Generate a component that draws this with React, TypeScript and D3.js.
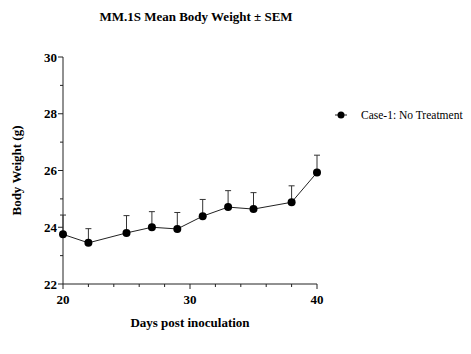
import React from 'react';
import * as d3 from 'd3';

const days = [20, 22, 25, 27, 29, 31, 33, 35, 38, 40];
const meanWeight = [23.75, 23.45, 23.8, 24.0, 23.94, 24.39, 24.71, 24.64, 24.88, 25.93];
const semWeight = [0.68, 0.5, 0.61, 0.55, 0.58, 0.59, 0.58, 0.58, 0.58, 0.61];
const xMajorTicks = [20, 30, 40];
const xMinorTicks = [22, 24, 26, 28, 32, 34, 36, 38];
const yMajorTicks = [22, 24, 26, 28, 30];
const yMinorTicks = [23, 25, 27, 29];
const seriesName = 'Case-1: No Treatment';

const W = 471;
const H = 354;
const font = "'Liberation Serif', 'Times New Roman', serif";

export default function App() {
  const x = d3.scaleLinear().domain([20, 40]).range([63, 317]);
  const y = d3.scaleLinear().domain([22, 30]).range([284, 57]);

  const pts = days.map((d, i) => ({ d, m: meanWeight[i], s: semWeight[i] }));
  const line = d3
    .line<{ d: number; m: number }>()
    .x((p) => x(p.d))
    .y((p) => y(p.m));

  const ink = '#222';

  return (
    <svg
      width={W}
      height={H}
      style={{ position: 'absolute', left: 0, top: 0, background: '#fff', fontFamily: font }}
    >
      <text x={196} y={21} textAnchor="middle" fontSize={13} fontWeight="bold" fill="#000">
        MM.1S Mean Body Weight ± SEM
      </text>

      {/* y axis */}
      <line x1={x(20)} x2={x(20)} y1={y(30)} y2={y(22)} stroke={ink} strokeWidth={1} />
      {yMajorTicks.map((t) => (
        <g key={'ym' + t}>
          <line x1={x(20) - 5} x2={x(20)} y1={y(t)} y2={y(t)} stroke={ink} />
          <text x={x(20) - 6} y={y(t)} dy="0.35em" textAnchor="end" fontSize={13} fontWeight="bold">
            {t}
          </text>
        </g>
      ))}
      {yMinorTicks.map((t) => (
        <line key={'yn' + t} x1={x(20) - 3} x2={x(20)} y1={y(t)} y2={y(t)} stroke={ink} />
      ))}

      {/* x axis */}
      <line x1={x(20)} x2={x(40)} y1={y(22)} y2={y(22)} stroke={ink} strokeWidth={1} />
      {xMajorTicks.map((t) => (
        <g key={'xm' + t}>
          <line x1={x(t)} x2={x(t)} y1={y(22)} y2={y(22) + 5} stroke={ink} />
          <text x={x(t)} y={y(22) + 20} textAnchor="middle" fontSize={13} fontWeight="bold">
            {t}
          </text>
        </g>
      ))}
      {xMinorTicks.map((t) => (
        <line key={'xn' + t} x1={x(t)} x2={x(t)} y1={y(22)} y2={y(22) + 3} stroke={ink} />
      ))}

      <text
        transform={`translate(21,${y(26)}) rotate(-90)`}
        textAnchor="middle"
        fontSize={13}
        fontWeight="bold"
      >
        Body Weight (g)
      </text>
      <text x={190} y={327} textAnchor="middle" fontSize={13} fontWeight="bold">
        Days post inoculation
      </text>

      {/* error bars */}
      {pts.map((p) => (
        <g key={'e' + p.d} stroke="#333" strokeWidth={1}>
          <line x1={x(p.d)} x2={x(p.d)} y1={y(p.m)} y2={y(p.m + p.s)} />
          <line x1={x(p.d) - 3} x2={x(p.d) + 3} y1={y(p.m + p.s)} y2={y(p.m + p.s)} />
        </g>
      ))}

      <path d={line(pts) || ''} fill="none" stroke="#222" strokeWidth={1} />
      {pts.map((p) => (
        <circle key={'c' + p.d} cx={x(p.d)} cy={y(p.m)} r={4} fill="#000" />
      ))}

      {/* legend */}
      <line x1={335} x2={347} y1={115} y2={115} stroke="#222" />
      <circle cx={341} cy={115} r={3.5} fill="#000" />
      <text x={361} y={115} dy="0.35em" fontSize={11.5}>
        {seriesName}
      </text>
    </svg>
  );
}
